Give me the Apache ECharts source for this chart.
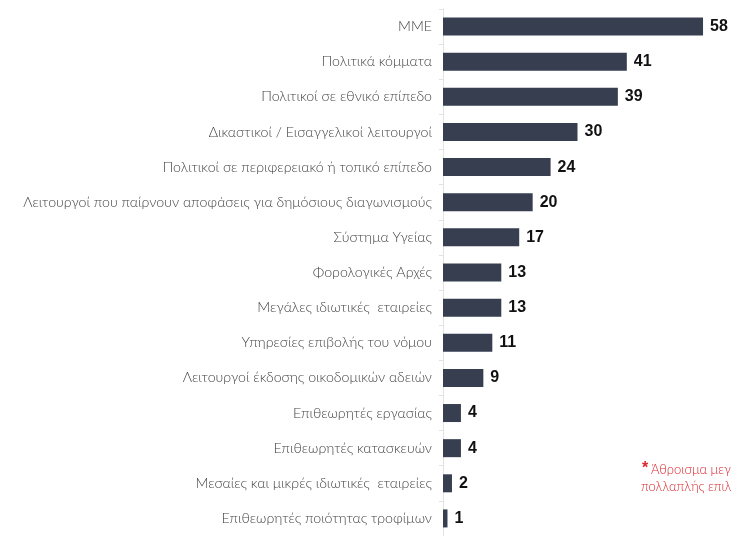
<!DOCTYPE html>
<html><head><meta charset="utf-8">
<script src="https://cdn.jsdelivr.net/npm/echarts@6/dist/echarts.min.js"></script>
<style>html,body{margin:0;padding:0;background:#fff}#c{width:731px;height:536px}</style>
</head><body><div id="c"></div>
<script>
const categories = ["ΜΜΕ","Πολιτικά κόμματα","Πολιτικοί σε εθνικό επίπεδο","Δικαστικοί / Εισαγγελικοί λειτουργοί","Πολιτικοί σε περιφερειακό ή τοπικό επίπεδο","Λειτουργοί που παίρνουν αποφάσεις για δημόσιους διαγωνισμούς","Σύστημα Υγείας","Φορολογικές Αρχές","Μεγάλες ιδιωτικές  εταιρείες","Υπηρεσίες επιβολής του νόμου","Λειτουργοί έκδοσης οικοδομικών αδειών","Επιθεωρητές εργασίας","Επιθεωρητές κατασκευών","Μεσαίες και μικρές ιδιωτικές  εταιρείες","Επιθεωρητές ποιότητας τροφίμων"];
const values = [58,41,39,30,24,20,17,13,13,11,9,4,4,2,1];
const noteLines = ["Άθροισμα μεγαλύτερο του 100% λόγω", "πολλαπλής επιλογής"];

const chart = echarts.init(document.getElementById('c'));
chart.setOption({
  animation: false,
  grid: {left: 443, top: 9, height: 532, width: 269},
  xAxis: {type: 'value', min: 0, max: 60, show: false},
  yAxis: {
    type: 'category', inverse: true, data: categories,
    axisLine: {show: true, lineStyle: {color: '#e3e3e3', width: 1}},
    axisTick: {show: true, length: 4, lineStyle: {color: '#e3e3e3'}},
    axisLabel: {color: '#444', fontSize: 14.2, fontFamily: 'Lato', fontWeight: 300, margin: 11}
  },
  series: [{
    type: 'bar', data: values, barWidth: 18,
    itemStyle: {color: '#363e4f'},
    label: {show: true, position: 'right', distance: 7, color: '#111', fontSize: 16,
      fontWeight: 'bold', fontFamily: 'Liberation Sans Narrow, Arial Narrow, Liberation Sans'}
  }],
  graphic: [
    {type: 'text', left: 642, top: 461, style: {text: '*', fill: '#e0262c', fontSize: 16, fontWeight: 'bold', fontFamily: 'Liberation Sans'}},
    {type: 'text', left: 651, top: 463, style: {text: noteLines[0], fill: '#d9262c', fontSize: 13, fontFamily: 'Lato', fontWeight: 300}},
    {type: 'text', left: 641, top: 480, style: {text: noteLines[1], fill: '#d9262c', fontSize: 13, fontFamily: 'Lato', fontWeight: 300}}
  ]
});
</script></body></html>
